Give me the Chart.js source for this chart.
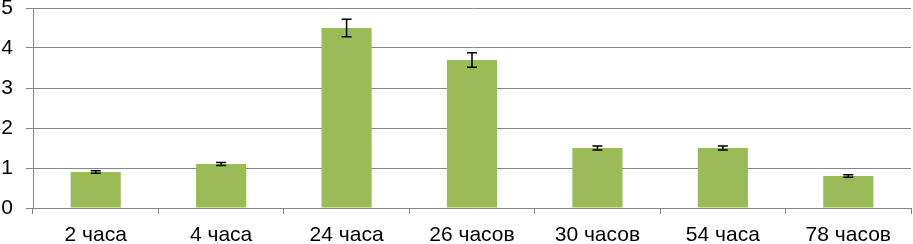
<!DOCTYPE html>
<html>
<head>
<meta charset="utf-8">
<script src="https://cdn.jsdelivr.net/npm/chart.js@4"></script>
<style>
  html, body { margin: 0; padding: 0; background: #fff; }
  #wrap { width: 913px; height: 244px; }
</style>
</head>
<body>
<div id="wrap"><canvas id="myChart"></canvas></div>
<script>
const categories = ['2 часа', '4 часа', '24 часа', '26 часов', '30 часов', '54 часа', '78 часов'];
const values = [0.9, 1.1, 4.5, 3.7, 1.5, 1.5, 0.8];
const errors = [0.03, 0.04, 0.22, 0.18, 0.05, 0.05, 0.03];
const yTicks = [0, 1, 2, 3, 4, 5];

// error bars drawn through the y scale
const errorBars = {
    id: 'errorBars',
    afterDatasetsDraw(chart) {
        const ctx = chart.ctx;
        const y = chart.scales.y;
        const meta = chart.getDatasetMeta(0);
        ctx.save();
        ctx.strokeStyle = '#000';
        ctx.lineWidth = 1.5;
        meta.data.forEach((bar, i) => {
            const top = y.getPixelForValue(values[i] + errors[i]);
            const bot = y.getPixelForValue(values[i] - errors[i]);
            const x = bar.x;
            ctx.beginPath();
            ctx.moveTo(x, top); ctx.lineTo(x, bot);
            ctx.moveTo(x - 5, top); ctx.lineTo(x + 5, top);
            ctx.moveTo(x - 5, bot); ctx.lineTo(x + 5, bot);
            ctx.stroke();
        });
        ctx.restore();
    }
};

const ctx = document.getElementById('myChart').getContext('2d');
new Chart(ctx, {
    type: 'bar',
    data: {
        labels: categories,
        datasets: [{
            data: values,
            backgroundColor: '#9bbb59',
            borderWidth: 0,
            categoryPercentage: 1,
            barPercentage: 0.4
        }]
    },
    options: {
        responsive: true,
        maintainAspectRatio: false,
        animation: false,
        layout: { padding: { top: 0, right: 2, left: 0, bottom: 0 } },
        plugins: { legend: { display: false }, tooltip: { enabled: false } },
        scales: {
            x: {
                grid: { drawOnChartArea: false, offset: true, color: '#868686', tickLength: 6 },
                border: { color: '#868686' },
                ticks: { color: '#000', font: { family: 'Liberation Sans', size: 21 }, padding: 9, maxRotation: 0 },
                afterFit: s => { s.height = 36; s.paddingLeft = 0; s.paddingRight = 0; }
            },
            y: {
                min: 0,
                max: 5,
                afterBuildTicks: axis => { axis.ticks = yTicks.map(v => ({ value: v })); },
                grid: { color: '#868686', tickLength: 7 },
                border: { color: '#868686' },
                ticks: { color: '#000', font: { family: 'Liberation Sans', size: 21 }, padding: 13 },
                afterFit: s => { s.width = 33; s.paddingTop = 8; s.paddingBottom = 0; }
            }
        }
    },
    plugins: [errorBars]
});
</script>
</body>
</html>
